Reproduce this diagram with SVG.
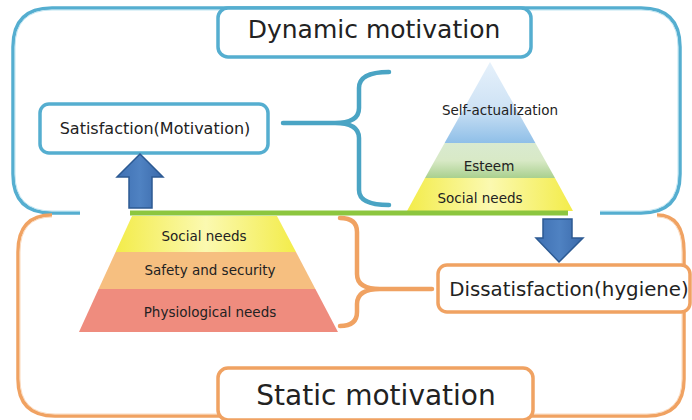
<svg xmlns="http://www.w3.org/2000/svg" width="692" height="420" viewBox="0 0 692 420">
  <defs>
    <linearGradient id="gBlue" x1="0" y1="0" x2="0" y2="1">
      <stop offset="0" stop-color="#e6f1fb"/>
      <stop offset="0.55" stop-color="#cfe3f5"/>
      <stop offset="1" stop-color="#8fbfe8"/>
    </linearGradient>
    <linearGradient id="gGreen" x1="0" y1="0" x2="0" y2="1">
      <stop offset="0" stop-color="#d9ead0"/>
      <stop offset="0.5" stop-color="#d8e9c6"/>
      <stop offset="1" stop-color="#a9d08e"/>
    </linearGradient>
    <linearGradient id="gYellow" x1="0" y1="0" x2="1" y2="0">
      <stop offset="0" stop-color="#f3ec4a"/>
      <stop offset="0.5" stop-color="#fbf9b0"/>
      <stop offset="1" stop-color="#f3ec4a"/>
    </linearGradient>
    <linearGradient id="gArrow" x1="0" y1="0" x2="1" y2="0">
      <stop offset="0" stop-color="#3f70b3"/>
      <stop offset="0.5" stop-color="#4f82c2"/>
      <stop offset="1" stop-color="#3a69aa"/>
    </linearGradient>
    <style>
      .frameB { fill: none; stroke: #55aed0; stroke-width: 3.5; }
      .frameBi { fill: none; stroke: #bfe5f2; stroke-width: 1; }
      .frameO { fill: none; stroke: #f0a262; stroke-width: 3.5; }
      .frameOi { fill: none; stroke: #fbd9bc; stroke-width: 1; }
      .boxB { fill: #ffffff; stroke: #55aed0; stroke-width: 3.5; }
      .boxO { fill: #ffffff; stroke: #f0a262; stroke-width: 3.5; }
      .brace { fill: none; stroke-width: 4.5; stroke-linecap: round; stroke-linejoin: round; }
      .t { font-family: "DejaVu Sans", Verdana, sans-serif; fill: #222222; text-anchor: middle; }
      .arrow { fill: url(#gArrow); stroke: #2c5a93; stroke-width: 1.5; stroke-linejoin: miter; }
    </style>
  </defs>

  <rect width="692" height="420" fill="#ffffff"/>

  <!-- outer frames: dynamic (blue, top) and static (orange, bottom) -->
  <g id="frame-dynamic">
    <path class="frameB" d="M80,213 L52,213 Q13,213 13,174 L13,47 Q13,8 52,8 L641,8 Q680,8 680,47 L680,174 Q680,213 641,213 L600,213"/>
    <path class="frameBi" d="M80,211 L52,211 Q15,211 15,174 L15,47 Q15,10 52,10 L641,10 Q678,10 678,47 L678,174 Q678,211 641,211 L600,211"/>
  </g>
  <g id="frame-static">
    <path class="frameO" d="M52,215 Q18,215 18,252 L18,379 Q18,416 55,416 L647,416 Q684,416 684,379 L684,252 Q684,215 657,215"/>
    <path class="frameOi" d="M52,217 Q20,217 20,252 L20,379 Q20,414 55,414 L647,414 Q682,414 682,379 L682,252 Q682,217 657,217"/>
  </g>

  <!-- title boxes -->
  <g id="title-dynamic">
    <rect class="boxB" x="218" y="8" width="313" height="49" rx="10"/>
    <text class="t" x="374" y="38" font-size="25">Dynamic motivation</text>
  </g>
  <g id="title-static">
    <rect class="boxO" x="218" y="368" width="315" height="52" rx="10"/>
    <text class="t" x="376" y="405" font-size="28">Static motivation</text>
  </g>

  <!-- upper pyramid: self-actualization, esteem, social needs -->
  <g id="pyramid-upper">
    <polygon points="490,62 535.4,143 444.6,143" fill="url(#gBlue)"/>
    <polygon points="444.6,143 535.4,143 555,178 425,178" fill="url(#gGreen)"/>
    <polygon points="425,178 555,178 573,211 407,211" fill="url(#gYellow)"/>
    <text class="t" x="500" y="115" font-size="13.5">Self-actualization</text>
    <text class="t" x="489" y="171" font-size="13.5">Esteem</text>
    <text class="t" x="480" y="203" font-size="13.5">Social needs</text>
  </g>

  <!-- lower pyramid: social needs, safety and security, physiological needs -->
  <g id="pyramid-lower">
    <polygon points="132,216 277,216 296,252 115.6,252" fill="url(#gYellow)"/>
    <polygon points="115.6,252 296,252 315.4,289 98.6,289" fill="#f6bf80"/>
    <polygon points="98.6,289 315.4,289 338,332 79,332" fill="#ef8c7e"/>
    <text class="t" x="204" y="241" font-size="13.5">Social needs</text>
    <text class="t" x="210" y="275" font-size="13.5">Safety and security</text>
    <text class="t" x="210" y="317" font-size="13.5">Physiological needs</text>
  </g>

  <!-- result boxes -->
  <g id="satisfaction">
    <rect class="boxB" x="40" y="104" width="228" height="49" rx="9"/>
    <text class="t" x="155" y="134" font-size="16">Satisfaction(Motivation)</text>
  </g>
  <g id="dissatisfaction">
    <rect class="boxO" x="438" y="265" width="252" height="47" rx="9"/>
    <text class="t" x="569" y="296" font-size="19.8">Dissatisfaction(hygiene)</text>
  </g>

  <!-- connectors: divider, braces, arrows -->
  <g id="connectors">
    <line x1="130" y1="213" x2="568" y2="213" stroke="#8cc63f" stroke-width="5"/>
    <path class="brace" stroke="#4aa4c4" d="M283,123 L335,123 Q359,123 359,108 L359,88 Q359,72 389,72 M335,123 Q359,123 359,138 L359,190 Q359,205 389,205"/>
    <path class="brace" stroke="#f0a262" d="M432,289 L380,289 Q357,289 357,274 L357,232 Q357,218 340,218 M380,289 Q357,289 357,304 L357,312 Q357,326 340,326"/>
    <polygon class="arrow" points="140,154 163,177 152,177 152,208 129,208 129,177 117,177"/>
    <polygon class="arrow" points="559,262 583,238 572,238 572,219 543,219 543,238 536,238"/>
  </g>
</svg>
